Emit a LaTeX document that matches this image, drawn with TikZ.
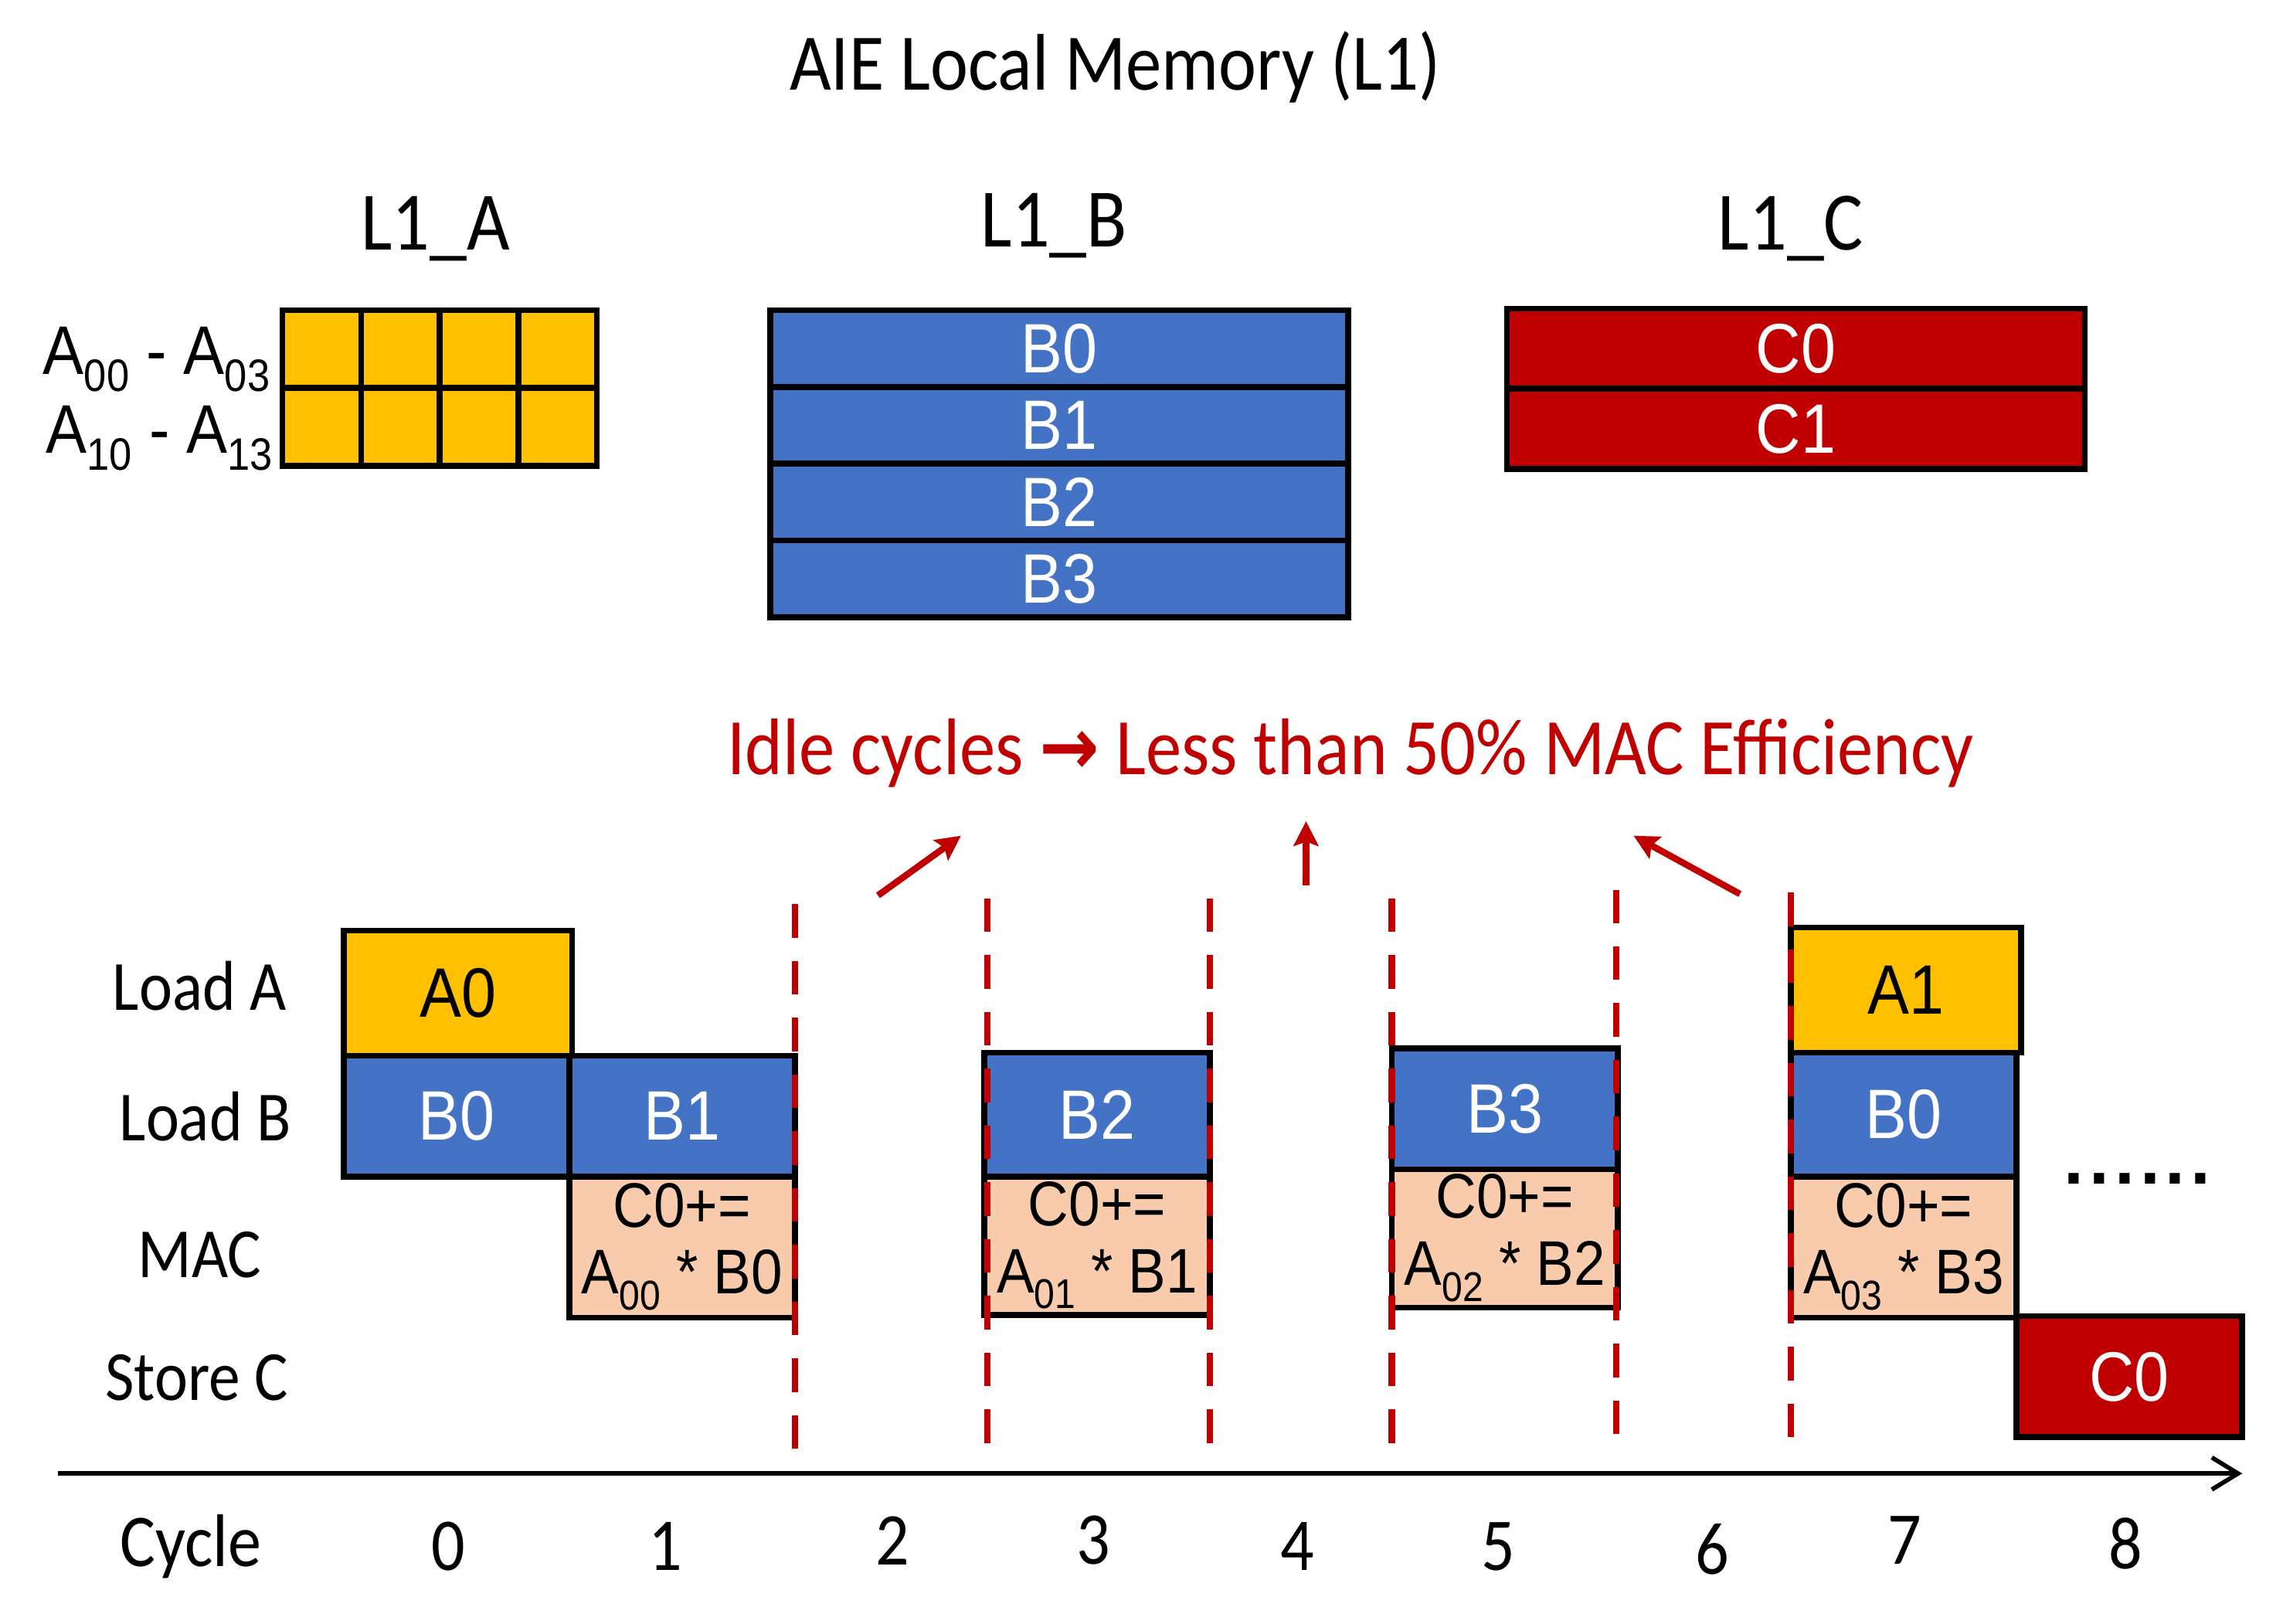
\documentclass[tikz,border=0pt]{standalone}
\usepackage{fontspec}
\usepackage{graphicx}
\setmainfont{Carlito}
\newfontfamily\arialf{Liberation Sans}
\newfontfamily\dejavuf{DejaVu Sans}
\usetikzlibrary{arrows.meta}
\definecolor{aieyellow}{HTML}{FFC000}
\definecolor{aieblue}{HTML}{4472C4}
\definecolor{aiered}{HTML}{C00000}
\definecolor{aiepeach}{HTML}{F8CBAD}
\newcommand{\vstr}[1]{\scalebox{1}[1.12]{#1}}
\newcommand{\aiesub}[1]{\raisebox{-0.25em}{\scalebox{0.66}{#1}}}
\tikzset{
  cellbox/.style={draw=black, line width=0.4mm, inner sep=0pt, outer sep=0pt,
    font=\arialf\fontsize{12.2}{14}\selectfont},
  yellowbox/.style={cellbox, fill=aieyellow, text=black},
  bluebox/.style={cellbox, fill=aieblue, text=white},
  redbox/.style={cellbox, fill=aiered, text=white},
  macbox/.style={cellbox, fill=aiepeach, text=black, font=\arialf\fontsize{11}{11.7}\selectfont},
  headlabel/.style={inner sep=0pt, font=\fontsize{14.5}{16}\selectfont},
  rowlabel/.style={inner sep=0pt, font=\fontsize{12.3}{14}\selectfont},
  numlabel/.style={inner sep=0pt, font=\fontsize{13}{15}\selectfont},
  alabel/.style={inner sep=0pt, anchor=base east, font=\arialf\fontsize{12}{14}\selectfont},
  idleline/.style={draw=aiered, line width=0.45mm, dash pattern=on 2.3mm off 1.6mm},
  idlearrow/.style={draw=aiered, line width=0.45mm, -{Stealth[length=1.7mm,width=1.7mm,inset=0.3mm]}},
  axisline/.style={draw=black, line width=0.3mm, -{Straight Barb[length=1.8mm,width=2.2mm,line width=0.3mm]}}
}
\begin{document}
\begin{tikzpicture}[x=0.1mm,y=-0.1mm]
\useasboundingbox (0,0) rectangle (1568,1115);

% title and memory labels
\node[inner sep=0pt, font=\fontsize{14}{16}\selectfont] (title) at (766,46) {\vstr{AIE Local Memory (L1)}};
\node[headlabel] (l1a) at (299,157) {\vstr{L1\_A}};
\node[headlabel] (l1b) at (724,155) {\vstr{L1\_B}};
\node[headlabel] (l1c) at (1230,157) {\vstr{L1\_C}};

% L1_A grid
\foreach \c in {0,...,3}{
  \foreach \r in {0,1}{
    \node[yellowbox, minimum width=5.4mm, minimum height=5.35mm] (la\r\c) at ({221+54*\c},{239.75+53.5*\r}) {};
  }
}
\node[alabel] (arow0) at (186,257) {\vstr{A\aiesub{00} - A\aiesub{03}}};
\node[alabel] (arow1) at (188,311) {\vstr{A\aiesub{10} - A\aiesub{13}}};

% L1_B
\node[bluebox, minimum width=39.7mm, minimum height=5.275mm] (lb0) at (727.5,239.4) {\vstr{B0}};
\node[bluebox, minimum width=39.7mm, minimum height=5.275mm] (lb1) at (727.5,292.1) {\vstr{B1}};
\node[bluebox, minimum width=39.7mm, minimum height=5.275mm] (lb2) at (727.5,344.9) {\vstr{B2}};
\node[bluebox, minimum width=39.7mm, minimum height=5.275mm] (lb3) at (727.5,397.6) {\vstr{B3}};

% L1_C
\node[redbox, minimum width=39.7mm, minimum height=5.5mm] (lc0) at (1233.5,239.5) {\vstr{C0}};
\node[redbox, minimum width=39.7mm, minimum height=5.5mm] (lc1) at (1233.5,294.5) {\vstr{C1}};

% idle text
\node[inner sep=0pt, text=aiered, font=\fontsize{14}{16}\selectfont] (idle) at (927.5,517)
  {\vstr{Idle cycles {\dejavuf\bfseries →} Less than 50\% MAC Efficiency}};

% row labels
\node[rowlabel] (rla) at (137,677) {\vstr{Load A}};
\node[rowlabel] (rlb) at (141,767) {\vstr{Load B}};
\node[rowlabel] (rlm) at (137,862) {\vstr{MAC}};
\node[rowlabel] (rls) at (135,946) {\vstr{Store C}};

% cycle labels
\node[numlabel] (cyc) at (131,1062) {\vstr{Cycle}};
\node[numlabel] (n0) at (308,1062) {\vstr{0}};
\node[numlabel] (n1) at (457,1062) {\vstr{1}};
\node[numlabel] (n2) at (613,1058) {\vstr{2}};
\node[numlabel] (n3) at (751,1058) {\vstr{3}};
\node[numlabel] (n4) at (891,1062) {\vstr{4}};
\node[numlabel] (n5) at (1029,1062) {\vstr{5}};
\node[numlabel] (n6) at (1176,1064) {\vstr{6}};
\node[numlabel] (n7) at (1308,1058) {\vstr{7}};
\node[numlabel] (n8) at (1460,1060) {\vstr{8}};

% axis
\coordinate (axs) at (40,1012);
\coordinate (axe) at (1540,1012);
\draw[axisline] (axs) -- (axe);

% pipeline boxes
\node[yellowbox, minimum width=15.7mm, minimum height=8.6mm] (ta0) at (314.5,682) {\vstr{A0}};
\node[bluebox, minimum width=15.5mm, minimum height=8.3mm] (tb0) at (313.5,766.5) {\vstr{B0}};
\node[bluebox, minimum width=15.5mm, minimum height=8.3mm] (tb1) at (468.5,766.5) {\vstr{B1}};
\node[macbox, minimum width=15.5mm, minimum height=9.7mm] (tm1) at (468.5,856.5)
  {\vstr{\begin{tabular}{@{}c@{}}C0+=\\A\aiesub{00} * B0\end{tabular}}};

\node[bluebox, minimum width=15.5mm, minimum height=8.5mm] (tb2) at (753.5,765.5) {\vstr{B2}};
\node[macbox, minimum width=15.5mm, minimum height=9.5mm] (tm2) at (753.5,855.5)
  {\vstr{\begin{tabular}{@{}c@{}}C0+=\\A\aiesub{01} * B1\end{tabular}}};

\node[bluebox, minimum width=15.5mm, minimum height=8.3mm] (tb3) at (1033.5,761.5) {\vstr{B3}};
\node[macbox, minimum width=15.5mm, minimum height=9.5mm] (tm3) at (1033.5,850.5)
  {\vstr{\begin{tabular}{@{}c@{}}C0+=\\A\aiesub{02} * B2\end{tabular}}};

\node[yellowbox, minimum width=15.8mm, minimum height=8.6mm] (ta1) at (1309,680) {\vstr{A1}};
\node[bluebox, minimum width=15.5mm, minimum height=8.5mm] (tb4) at (1307.5,765.5) {\vstr{B0}};
\node[macbox, minimum width=15.5mm, minimum height=9.7mm] (tm4) at (1307.5,856.5)
  {\vstr{\begin{tabular}{@{}c@{}}C0+=\\A\aiesub{03} * B3\end{tabular}}};
\node[redbox, minimum width=15.5mm, minimum height=8.3mm] (tc0) at (1462.5,945.5) {\vstr{C0}};

\node[inner sep=0pt, anchor=base, font=\arialf\bfseries\fontsize{14}{16}\selectfont] (dots) at (1468,813)
  {.\kern1.05pt.\kern1.05pt.\kern1.05pt.\kern1.05pt.\kern1.05pt.};

% dashed idle boundaries
\foreach \i/\x/\t/\b in {1/546/621/1005, 2/678/617/1003, 3/831/617/1003, 4/956/617/1003, 5/1110/611/1000, 6/1230/613/1000}{
  \coordinate (dt\i) at (\x,\t);
  \coordinate (db\i) at (\x,\b);
  \draw[idleline] (dt\i) -- (db\i);
}

% red arrows
\coordinate (ar1s) at (603,615); \coordinate (ar1e) at (660,574);
\coordinate (ar2s) at (897,608); \coordinate (ar2e) at (897,564);
\coordinate (ar3s) at (1195,614); \coordinate (ar3e) at (1122,574);
\draw[idlearrow] (ar1s) -- (ar1e);
\draw[idlearrow] (ar2s) -- (ar2e);
\draw[idlearrow] (ar3s) -- (ar3e);
\end{tikzpicture}
\end{document}
